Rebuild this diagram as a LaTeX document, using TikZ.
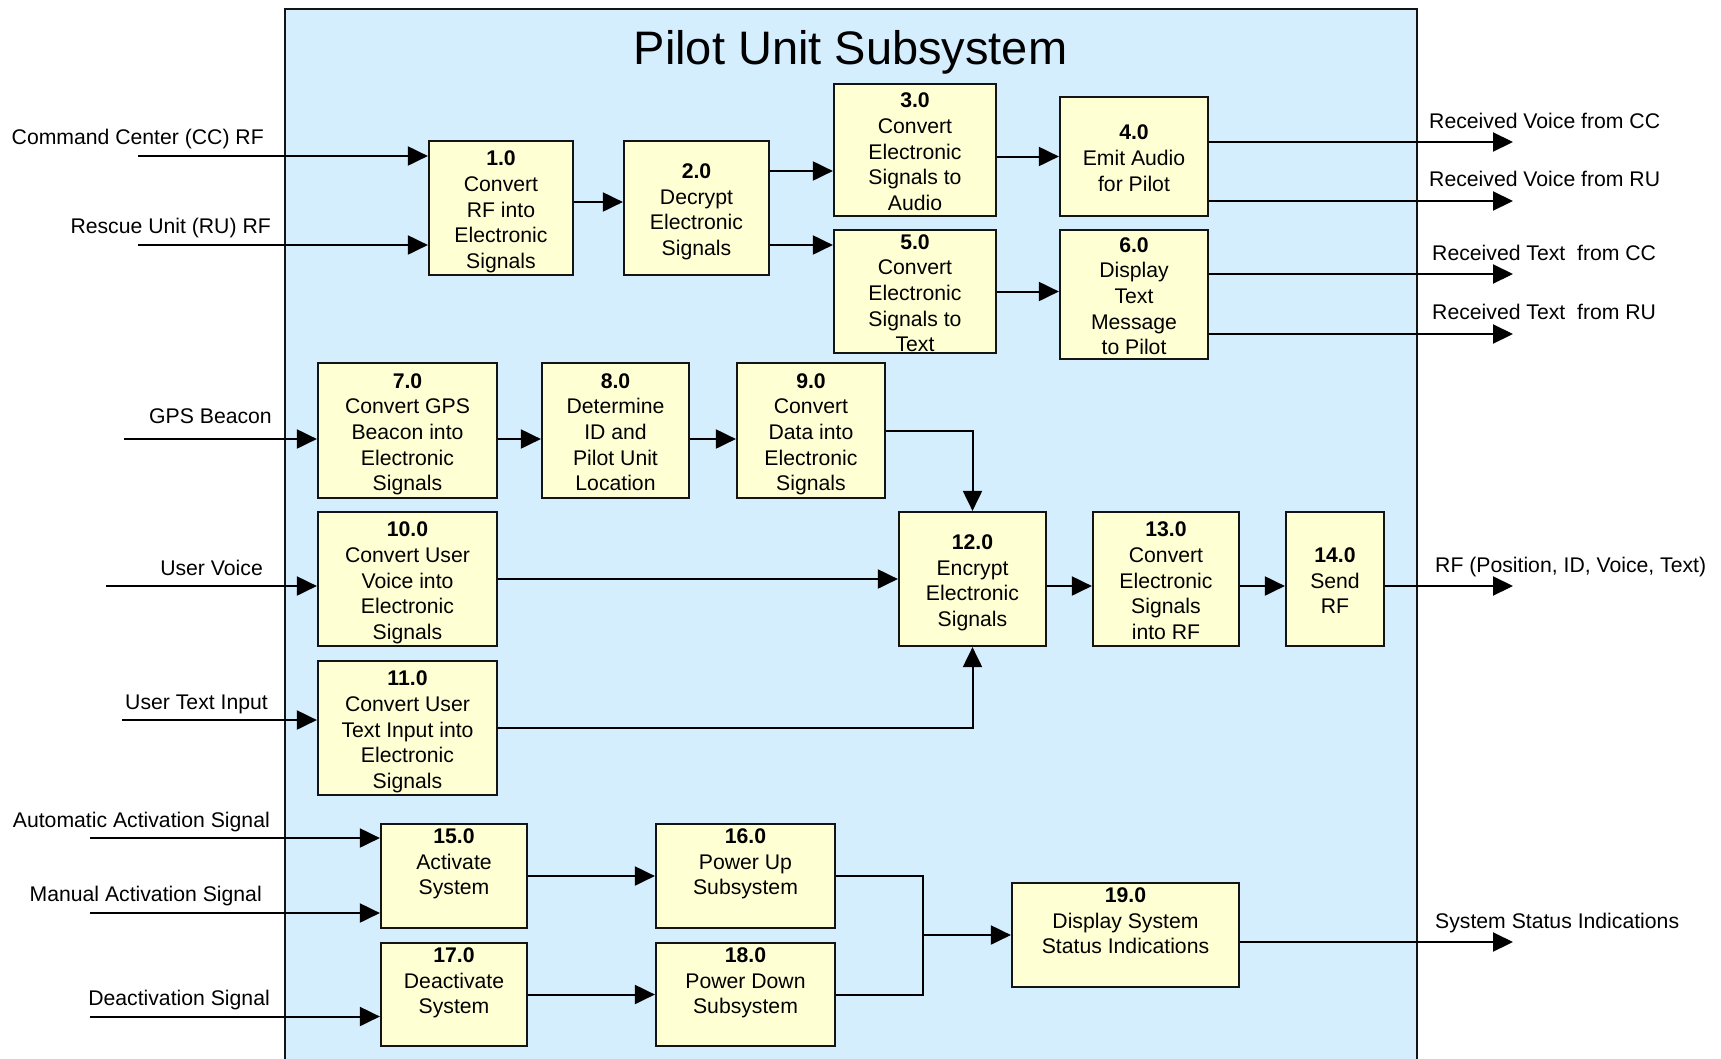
\documentclass[tikz,border=0pt]{standalone}
\usepackage{fontspec}
\setmainfont{Liberation Sans}
\usetikzlibrary{arrows.meta}

\definecolor{framefill}{RGB}{213,238,254}
\definecolor{boxfill}{RGB}{255,255,212}
\definecolor{edge}{RGB}{20,20,20}

\newcommand{\boxfont}{\fontsize{21.2}{25.7}\selectfont}
\newcommand{\labfont}{\fontsize{21.2}{25.7}\selectfont}

% box with its text centred
\newcommand{\mkboxc}[6]{%
  \node[blk, minimum width=#4pt, minimum height=#5pt] (#1) at (#2,#3) {};
  \node[btxt] (#1t) at (#1.center) {#6};}
% box with its text at the top
\newcommand{\mkboxt}[6]{%
  \node[blk, minimum width=#4pt, minimum height=#5pt] (#1) at (#2,#3) {};
  \node[btxt, anchor=north] (#1t) at (#1.north) {#6};}

\tikzset{
  blk/.style={draw=edge, line width=2.2pt, fill=boxfill, rectangle, inner sep=0pt},
  btxt/.style={align=center, inner sep=0pt, font=\boxfont, yshift=-5.5pt,
    execute at begin node=\strut, execute at end node=\strut},
  lbl/.style={inner sep=0pt, font=\labfont},
  wire/.style={draw=black, line width=2pt},
  arr/.style={wire, -{Triangle[length=20pt,width=19pt]}},
  frame/.style={draw=edge, line width=2pt, fill=framefill, rectangle, inner sep=0pt}
}

\begin{document}
\begin{tikzpicture}[x=1pt, y=-1pt]
\useasboundingbox (0,0) rectangle (1721,1058);

% subsystem frame (runs past the lower edge)
\node[frame, minimum width=1132pt, minimum height=1062pt, anchor=north west] (sys) at (284,8) {};
\node[anchor=base, inner sep=0pt, font=\fontsize{47}{56}\selectfont] (title) at (850.5,64) {Pilot Unit Subsystem};

% free ends of the external flows
\coordinate (iCC) at (138,156);
\coordinate (iRU) at (138,245);
\coordinate (iGPS) at (124,439);
\coordinate (iUV) at (106,586);
\coordinate (iUT) at (122,720);
\coordinate (iAA) at (90,838);
\coordinate (iMA) at (90,913);
\coordinate (iDA) at (90,1016.5);
\coordinate (oVC) at (1513,142);
\coordinate (oVR) at (1513,201);
\coordinate (oTC) at (1513,274);
\coordinate (oTR) at (1513,334);
\coordinate (oRF) at (1513,586);
\coordinate (oSS) at (1513,942);
\coordinate (mj) at (923,935);

% external flow labels
\node[lbl, anchor=base east] (lCC) at (264,144.5) {Command Center (CC) RF};
\node[lbl, anchor=base east] (lRU) at (271,233) {Rescue Unit (RU) RF};
\node[lbl, anchor=base east] (lGPS) at (272,423) {GPS Beacon};
\node[lbl, anchor=base east] (lUV) at (263,575) {User Voice};
\node[lbl, anchor=base east] (lUT) at (268,709) {User Text Input};
\node[lbl, anchor=base east] (lAA) at (270,827) {Automatic Activation Signal};
\node[lbl, anchor=base east] (lMA) at (262,901) {Manual Activation Signal};
\node[lbl, anchor=base east] (lDA) at (270,1005) {Deactivation Signal};
\node[lbl, anchor=base west] (lVC) at (1429,128) {Received Voice from CC};
\node[lbl, anchor=base west] (lVR) at (1429,186) {Received Voice from RU};
\node[lbl, anchor=base west] (lTC) at (1432,260) {Received Text\ \ from CC};
\node[lbl, anchor=base west] (lTR) at (1432,319) {Received Text\ \ from RU};
\node[lbl, anchor=base west] (lRF) at (1435,572) {RF (Position, ID, Voice, Text)};
\node[lbl, anchor=base west] (lSS) at (1435,928) {System Status Indications};

% process boxes: name, centre x, centre y, width, height, text
\mkboxc{b1}{501}{208}{144}{134}{\textbf{1.0}\\Convert\\RF into\\Electronic\\Signals}
\mkboxc{b2}{696.5}{208}{145}{134}{\textbf{2.0}\\Decrypt\\Electronic\\Signals}
\mkboxc{b3}{915}{150}{162}{132}{\textbf{3.0}\\Convert\\Electronic\\Signals to\\Audio}
\mkboxc{b4}{1134}{156.5}{148}{119}{\textbf{4.0}\\Emit Audio\\for Pilot}
\mkboxc{b5}{915}{291.5}{162}{123}{\textbf{5.0}\\Convert\\Electronic\\Signals to\\Text}
\mkboxc{b6}{1134}{294.5}{148}{129}{\textbf{6.0}\\Display\\Text\\Message\\to Pilot}
\mkboxc{b7}{407.5}{430.5}{179}{135}{\textbf{7.0}\\Convert GPS\\Beacon into\\Electronic\\Signals}
\mkboxc{b8}{615.5}{430.5}{147}{135}{\textbf{8.0}\\Determine\\ID and\\Pilot Unit\\Location}
\mkboxc{b9}{811}{430.5}{148}{135}{\textbf{9.0}\\Convert\\Data into\\Electronic\\Signals}
\mkboxc{b10}{407.5}{579}{179}{134}{\textbf{10.0}\\Convert User\\Voice into\\Electronic\\Signals}
\mkboxc{b11}{407.5}{728}{179}{134}{\textbf{11.0}\\Convert User\\Text Input into\\Electronic\\Signals}
\mkboxc{b12}{972.5}{579}{147}{134}{\textbf{12.0}\\Encrypt\\Electronic\\Signals}
\mkboxc{b13}{1166}{579}{146}{134}{\textbf{13.0}\\Convert\\Electronic\\Signals\\into RF}
\mkboxc{b14}{1335}{579}{98}{134}{\textbf{14.0}\\Send\\RF}
\mkboxt{b15}{454}{876}{146}{104}{\textbf{15.0}\\Activate\\System}
\mkboxt{b16}{745.5}{876}{179}{104}{\textbf{16.0}\\Power Up\\Subsystem}
\mkboxt{b17}{454}{994.5}{146}{103}{\textbf{17.0}\\Deactivate\\System}
\mkboxt{b18}{745.5}{994.5}{179}{103}{\textbf{18.0}\\Power Down\\Subsystem}
\mkboxt{b19}{1125.5}{935}{227}{104}{\textbf{19.0}\\Display System\\Status Indications}

% incoming flows
\draw[arr] (iCC) -- (iCC -| b1.west);
\draw[arr] (iRU) -- (iRU -| b1.west);
\draw[arr] (iGPS) -- (iGPS -| b7.west);
\draw[arr] (iUV) -- (iUV -| b10.west);
\draw[arr] (iUT) -- (iUT -| b11.west);
\draw[arr] (iAA) -- (iAA -| b15.west);
\draw[arr] (iMA) -- (iMA -| b15.west);
\draw[arr] (iDA) -- (iDA -| b17.west);

% receive chain
\coordinate (a12) at ([yshift=6pt]b1.east);
\draw[arr] (a12) -- (a12 -| b2.west);
\coordinate (a23) at ([yshift=37pt]b2.east);
\draw[arr] (a23) -- (a23 -| b3.west);
\coordinate (a25) at ([yshift=-37pt]b2.east);
\draw[arr] (a25) -- (a25 -| b5.west);
\draw[arr] (b3.east |- b4.west) -- (b4.west);
\draw[arr] (b5.east) -- (b5.east -| b6.west);

% outgoing flows
\draw[arr] (oVC -| b4.east) -- (oVC);
\draw[arr] (oVR -| b4.east) -- (oVR);
\draw[arr] (oTC -| b6.east) -- (oTC);
\draw[arr] (oTR -| b6.east) -- (oTR);

% transmit chain
\draw[arr] (b7.east |- iGPS) -- (b8.west |- iGPS);
\draw[arr] (b8.east |- iGPS) -- (b9.west |- iGPS);
\draw[arr] (b9.east) -| (b12.north);
\draw[arr] (b10.east) -- (b12.west);
\draw[arr] (b11.east) -| (b12.south);
\coordinate (a1213) at ([yshift=-7pt]b12.east);
\draw[arr] (a1213) -- (a1213 -| b13.west);
\draw[arr] (oRF -| b13.east) -- (oRF -| b14.west);
\draw[arr] (oRF -| b14.east) -- (oRF);

% power control
\draw[arr] (b15.east) -- (b16.west);
\draw[arr] (b17.east) -- (b18.west);
\draw[wire] (b16.east) -| (mj);
\draw[wire] (b18.east) -| (mj);
\draw[arr] (mj) -- (b19.west);
\draw[arr] (oSS -| b19.east) -- (oSS);
\end{tikzpicture}
\end{document}
